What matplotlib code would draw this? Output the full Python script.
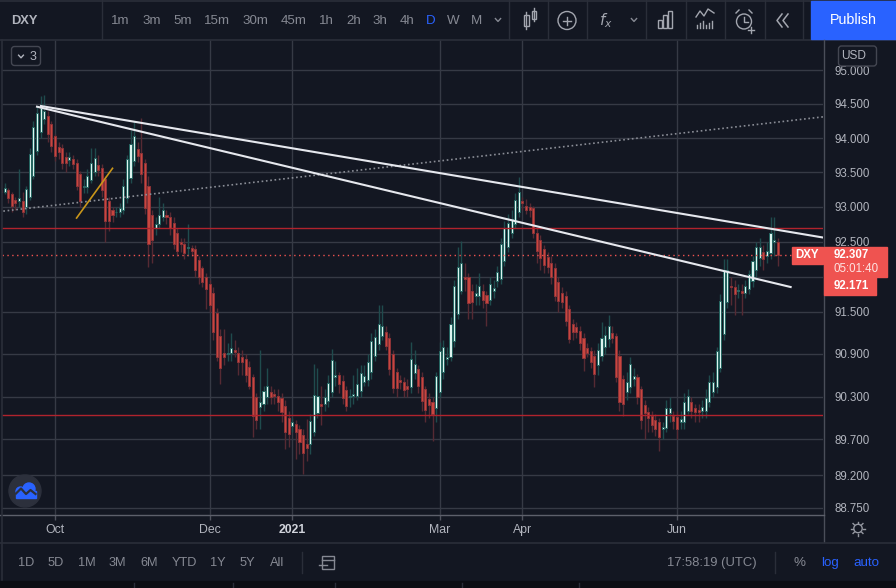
import numpy as np
import pandas as pd
import matplotlib
matplotlib.use('Agg')
from matplotlib import pyplot as plt
from matplotlib.patches import Rectangle, FancyBboxPatch, Circle, Polygon
from matplotlib.ticker import NullLocator, NullFormatter

plt.rcParams['font.family'] = ['Liberation Sans', 'DejaVu Sans']

# DXY daily candles (weekdays), 10 Sep 2020 -> 9 Jul 2021
dates = pd.bdate_range('2020-09-10', '2021-07-09')

opens = [93.25, 93.22, 93.25, 93.19, 93.10, 93.09, 93.09, 93.00, 93.14, 93.45,
         93.81, 94.09, 94.28, 94.32, 94.21, 94.03, 93.87, 93.86, 93.73, 93.68,
         93.70, 93.64, 93.48, 93.29, 93.29, 93.39, 93.51, 93.61, 93.57, 93.41,
         93.09, 92.95, 92.92, 92.92, 92.95, 93.13, 93.42, 93.67, 93.84, 93.78,
         93.63, 93.30, 92.88, 92.70, 92.75, 92.85, 92.88, 92.86, 92.77, 92.62,
         92.49, 92.47, 92.415, 92.41, 92.40, 92.23, 92.12, 92.00, 91.89, 91.76,
         91.48, 91.15, 90.92, 90.90, 90.91, 90.95, 90.92, 90.85, 90.83, 90.71,
         90.57, 90.29, 90.15, 90.19, 90.29, 90.36, 90.33, 90.31, 90.28, 90.17,
         90.00, 89.89, 89.91, 89.85, 89.76, 89.63, 89.64, 89.80, 90.07, 90.20,
         90.20, 90.24, 90.36, 90.58, 90.60, 90.52, 90.39, 90.30, 90.31, 90.31,
         90.38, 90.50, 90.53, 90.64, 90.87, 91.04, 91.15, 91.21, 91.12, 90.90,
         90.64, 90.53, 90.50, 90.45, 90.43, 90.63, 90.69, 90.57, 90.40, 90.26,
         90.22, 90.14, 90.36, 90.64, 90.83, 90.86, 91.08, 91.47, 91.80, 92.00,
         91.99, 91.79, 91.72, 91.72, 91.79, 91.73, 91.67, 91.79, 91.93, 91.96,
         92.22, 92.43, 92.62, 92.75, 92.92, 93.08, 93.02, 93.00, 92.98, 92.62,
         92.53, 92.40, 92.28, 92.20, 92.12, 91.92, 91.77, 91.72, 91.53, 91.32,
         91.28, 91.22, 91.13, 90.99, 90.94, 90.87, 90.74, 90.87, 91.00, 91.11,
         91.19, 91.15, 90.87, 90.54, 90.36, 90.43, 90.55, 90.57, 90.40, 90.18,
         90.08, 90.03, 89.97, 89.94, 89.85, 89.86, 90.07, 90.03, 90.01, 89.94,
         89.94, 90.10, 90.22, 90.14, 90.11, 90.10, 90.10, 90.22, 90.36, 90.43,
         90.70, 91.18, 91.63, 91.86, 91.85, 91.80, 91.80, 91.77, 91.82, 91.93,
         92.10, 92.26, 92.35, 92.30, 92.33, 92.49, 92.50]

highs = [93.30, 93.35, 93.28, 93.22, 93.15, 93.55, 93.22, 93.30, 93.85, 94.25,
         94.46, 94.62, 94.63, 94.40, 94.25, 94.06, 93.95, 93.92, 93.80, 93.80,
         93.75, 93.70, 93.52, 93.40, 93.55, 93.85, 93.85, 93.75, 93.62, 93.45,
         93.15, 93.00, 93.00, 93.05, 93.40, 93.75, 94.12, 94.25, 93.95, 94.30,
         93.70, 93.45, 92.95, 92.85, 93.15, 93.05, 92.95, 92.92, 92.85, 92.70,
         92.55, 92.55, 92.75, 92.45, 92.45, 92.30, 92.15, 92.05, 91.95, 91.85,
         91.55, 91.25, 91.25, 91.05, 91.20, 91.10, 91.00, 90.95, 90.90, 90.80,
         90.62, 90.35, 90.95, 90.45, 90.70, 90.45, 90.40, 90.40, 90.35, 90.25,
         90.10, 90.00, 89.97, 89.90, 89.85, 89.98, 90.05, 90.76, 90.70, 90.45,
         90.40, 90.60, 90.97, 90.80, 90.65, 90.60, 90.45, 90.40, 90.60, 90.70,
         90.75, 90.75, 90.90, 91.20, 91.25, 91.60, 91.60, 91.30, 91.20, 90.95,
         90.70, 90.60, 90.58, 90.55, 91.07, 90.95, 90.75, 90.65, 90.45, 90.35,
         90.30, 90.65, 91.07, 91.10, 91.00, 91.43, 91.95, 92.43, 92.51, 92.20,
         92.05, 91.90, 91.90, 92.05, 91.90, 91.80, 92.00, 91.95, 92.15, 92.55,
         92.80, 92.90, 92.95, 93.20, 93.44, 93.15, 93.12, 93.05, 93.02, 92.70,
         92.60, 92.45, 92.35, 92.30, 92.20, 92.00, 91.85, 91.80, 91.60, 91.40,
         91.35, 91.30, 91.20, 91.05, 91.00, 90.95, 91.05, 91.35, 91.30, 91.45,
         91.30, 91.20, 90.95, 90.60, 90.65, 90.85, 90.70, 90.62, 90.45, 90.25,
         90.15, 90.10, 90.05, 90.00, 89.95, 90.25, 90.30, 90.10, 90.10, 90.10,
         90.35, 90.40, 90.30, 90.20, 90.20, 90.25, 90.40, 90.60, 90.65, 91.00,
         91.75, 92.25, 92.25, 92.00, 91.95, 91.90, 91.90, 91.95, 92.10, 92.30,
         92.50, 92.55, 92.45, 92.50, 92.85, 92.85, 92.55]

lows = [93.15, 93.18, 93.05, 92.92, 92.95, 93.00, 92.85, 92.90, 93.10, 93.40,
        93.75, 94.00, 94.20, 93.95, 93.80, 93.66, 93.70, 93.55, 93.50, 93.60,
        93.55, 93.25, 93.00, 93.20, 93.20, 93.35, 93.45, 93.45, 93.15, 92.49,
        92.65, 92.78, 92.85, 92.85, 92.90, 93.05, 93.35, 93.60, 93.65, 93.35,
        92.90, 92.14, 92.20, 92.60, 92.70, 92.80, 92.75, 92.60, 92.40, 92.30,
        92.35, 92.25, 92.30, 92.30, 92.00, 91.90, 91.85, 91.53, 91.50, 91.10,
        90.80, 90.47, 90.75, 90.80, 90.80, 90.85, 90.60, 90.60, 90.50, 90.40,
        89.73, 89.85, 89.85, 90.10, 90.20, 90.20, 90.20, 90.10, 89.95, 89.57,
        89.60, 89.80, 89.43, 89.50, 89.22, 89.40, 89.50, 89.75, 90.00, 89.90,
        90.10, 90.15, 90.30, 90.45, 90.35, 90.20, 90.10, 90.15, 90.20, 90.25,
        90.30, 90.45, 90.45, 90.55, 90.80, 90.95, 91.10, 90.95, 90.60, 90.35,
        90.30, 90.40, 90.30, 90.30, 90.35, 90.55, 90.35, 90.10, 89.95, 90.00,
        89.68, 89.95, 90.30, 90.55, 90.75, 90.80, 91.00, 91.40, 91.75, 91.80,
        91.39, 91.40, 91.60, 91.60, 91.55, 91.29, 91.60, 91.70, 91.85, 91.90,
        92.15, 92.35, 92.55, 92.70, 92.85, 92.95, 92.90, 92.85, 92.55, 92.20,
        92.10, 92.05, 92.05, 91.90, 91.65, 91.50, 91.55, 91.30, 91.05, 91.10,
        91.12, 90.95, 90.66, 90.85, 90.70, 90.43, 90.60, 90.80, 90.90, 91.00,
        91.05, 90.50, 90.10, 90.03, 90.25, 90.35, 90.45, 90.20, 89.85, 89.71,
        89.80, 89.80, 89.75, 89.54, 89.70, 89.80, 89.95, 89.85, 89.71, 89.85,
        89.85, 90.05, 90.00, 89.95, 89.95, 90.00, 90.00, 90.15, 90.30, 90.35,
        90.65, 91.10, 91.55, 91.60, 91.45, 91.70, 91.45, 91.70, 91.75, 91.85,
        92.00, 92.15, 92.10, 92.20, 92.25, 92.30, 92.15]

closes = [93.21, 93.27, 93.13, 93.02, 93.06, 93.13, 92.92, 93.26, 93.77, 94.16,
          94.37, 94.44, 94.40, 94.06, 93.89, 93.74, 93.80, 93.63, 93.63, 93.73,
          93.62, 93.31, 93.09, 93.30, 93.45, 93.63, 93.71, 93.53, 93.25, 92.80,
          92.80, 92.88, 92.925, 92.98, 93.31, 93.70, 93.92, 94.03, 93.74, 93.48,
          92.98, 92.46, 92.52, 92.76, 92.88, 92.96, 92.85, 92.69, 92.46, 92.37,
          92.46, 92.34, 92.42, 92.36, 92.09, 92.00, 91.92, 91.82, 91.59, 91.21,
          90.85, 90.70, 90.85, 90.91, 90.98, 90.93, 90.78, 90.78, 90.60, 90.45,
          90.03, 89.97, 90.22, 90.38, 90.45, 90.29, 90.31, 90.22, 90.08, 89.80,
          89.78, 89.94, 89.80, 89.66, 89.51, 89.58, 89.96, 90.32, 90.31, 90.17,
          90.29, 90.49, 90.81, 90.60, 90.47, 90.28, 90.17, 90.31, 90.33, 90.47,
          90.63, 90.59, 90.78, 91.08, 91.14, 91.33, 91.29, 91.01, 90.69, 90.42,
          90.42, 90.50, 90.39, 90.40, 90.83, 90.76, 90.45, 90.24, 90.11, 90.18,
          90.05, 90.59, 90.94, 91.00, 90.86, 91.33, 91.87, 92.14, 92.20, 91.97,
          91.62, 91.63, 91.76, 91.86, 91.66, 91.62, 91.89, 91.83, 92.06, 92.46,
          92.70, 92.77, 92.83, 93.10, 93.22, 93.06, 92.96, 92.96, 92.62, 92.36,
          92.26, 92.17, 92.14, 92.00, 91.72, 91.65, 91.63, 91.36, 91.11, 91.21,
          91.21, 91.06, 90.84, 90.92, 90.78, 90.61, 90.95, 91.12, 91.17, 91.29,
          91.12, 90.57, 90.22, 90.19, 90.50, 90.76, 90.59, 90.29, 89.97, 90.07,
          90.00, 89.90, 89.85, 89.73, 89.88, 90.14, 90.14, 89.96, 89.85, 89.98,
          90.22, 90.31, 90.10, 90.08, 90.08, 90.15, 90.28, 90.50, 90.50, 90.94,
          91.65, 92.09, 92.10, 91.85, 91.75, 91.805, 91.77, 91.86, 92.03, 92.22,
          92.43, 92.43, 92.25, 92.36, 92.63, 92.52, 92.307]

# axes
month_ticks = ['2020-10', '2020-12', '2021-01', '2021-03', '2021-04', '2021-06']
month_labels = ['Oct', 'Dec', '2021', 'Mar', 'Apr', 'Jun']
price_ticks = [95.0, 94.5, 94.0, 93.5, 93.0, 92.5, 92.0, 91.5, 90.9, 90.3, 89.7, 89.2, 88.75]
hidden_tick = 92.0
xlim = (0.26, 228.6)
ylim = (88.667, 95.444)

# drawings (bar index, price)
trend_upper = [(11.1, 94.47), (240.0, 92.46)]
trend_lower = [(10.0, 94.46), (219.6, 91.85)]
trend_dotted = [(-1.0, 92.93), (240.0, 94.38)]
trend_orange = [(21.0, 92.84), (31.0, 93.56)]
red_levels = [92.70, 90.04]
last_price = 92.307
second_label = 92.171
countdown = '05:01:40'

bg = '#131722'
grid_c = '#363a45'
sep_c = '#2a2e39'
txt = '#b2b5be'
dim = '#868993'
blue = '#2962ff'
lab_red = '#ef5350'

fig = plt.figure(figsize=(8.96, 5.88), dpi=100, facecolor=bg)
ax = fig.add_axes([2/896, 74/588, 821/896, 474/588])
ax.set_facecolor(bg)

x = np.arange(len(dates))
o = np.array(opens); h = np.array(highs); l = np.array(lows); c = np.array(closes)
up = c >= o
bottom = np.minimum(o, c)
height = np.maximum(np.abs(c - o), 0.012)

ax.vlines(x[up], l[up], h[up], color='#1f4b4d', lw=1, zorder=2)
ax.vlines(x[~up], l[~up], h[~up], color='#562a33', lw=1, zorder=2)
ax.bar(x[up], height[up], bottom=bottom[up], width=0.58, color='#dcf3ef',
       edgecolor='#246460', lw=0.7, zorder=3)
ax.bar(x[~up], height[~up], bottom=bottom[~up], width=0.58, color='#c8463f',
       edgecolor='#8e3438', lw=0.7, zorder=3)

for lv in red_levels:
    ax.axhline(lv, color='#b0232d', lw=1.0, zorder=4)
ax.axhline(last_price, color=lab_red, lw=1, ls=(0, (1, 2.5)), zorder=4)

def seg(pts, **kw):
    xs, ys = zip(*pts)
    ax.plot(xs, ys, **kw)

seg(trend_dotted, color='#8a8d96', lw=1.2, ls=(0, (1, 1.6)), zorder=5)
seg(trend_upper, color='#e6e8ee', lw=1.5, zorder=6)
seg(trend_lower, color='#e6e8ee', lw=1.5, zorder=6)
seg(trend_orange, color='#c9961a', lw=1.2, zorder=6)

ax.set_yscale('log')
ax.set_xlim(*xlim)
ax.set_ylim(*ylim)
ax.yaxis.set_minor_locator(NullLocator())
ax.yaxis.set_minor_formatter(NullFormatter())
ax.set_yticks(price_ticks)
ax.set_yticklabels(['' if t == hidden_tick else '%.3f' % t for t in price_ticks])
ax.yaxis.tick_right()
ax.tick_params(axis='y', length=0, pad=8, labelsize=8.3, labelcolor=txt)

ym = dates.strftime('%Y-%m')
xt = [int(np.argmax(ym == m)) for m in month_ticks]
ax.set_xticks(xt)
ax.set_xticklabels(month_labels)
ax.tick_params(axis='x', length=4, width=1, color='#50535e', pad=3, labelsize=8.8, labelcolor=txt)
lbl = ax.get_xticklabels()[month_labels.index('2021')]
lbl.set_fontweight('bold')
lbl.set_color('#d1d4dc')
ax.grid(True, color=grid_c, lw=1, zorder=0)
for s in ax.spines.values():
    s.set_visible(False)

def py(p):
    return 588 - ax.transData.transform((0, p))[1]

# chrome overlay in pixel units
ov = fig.add_axes([0, 0, 1, 1], zorder=5)
ov.set_xlim(0, 896)
ov.set_ylim(588, 0)
ov.axis('off')

def chev(xc, yc, s=2.6, col=dim, lw=1):
    ov.plot([xc - s, xc, xc + s], [yc - s * 0.55, yc + s * 0.55, yc - s * 0.55], color=col, lw=lw)

# top toolbar
ov.add_patch(Rectangle((0, 0), 896, 39, color=bg, zorder=1))
ov.plot([0, 896], [39.5, 39.5], color=sep_c, lw=1.2)
ov.plot([0, 896], [0.8, 0.8], color=sep_c, lw=1.2)
for sx in [102, 509, 548, 587, 646, 686, 725, 765, 803]:
    ov.plot([sx, sx], [0, 39], color=sep_c, lw=1)
ov.text(24, 20.5, 'DXY', color=txt, fontsize=9.3, fontweight='bold', ha='center', va='center')
intervals = ['1m', '3m', '5m', '15m', '30m', '45m', '1h', '2h', '3h', '4h', 'D', 'W', 'M']
ix = [120.5, 151.5, 182.5, 217, 255, 293.5, 326.5, 353.5, 380, 407, 431, 453, 476]
for t, xx in zip(intervals, ix):
    ov.text(xx, 20.5, t, color=blue if t == 'D' else dim, fontsize=9.6, ha='center', va='center')
chev(498, 20)
icol = '#a3a6af'
# candles icon
ov.add_patch(Rectangle((524, 15), 4.5, 11, fill=False, ec=icol, lw=1))
ov.plot([526.2, 526.2], [12, 29], color=icol, lw=1)
ov.add_patch(Rectangle((531.5, 10.5), 4.5, 8, fill=False, ec=icol, lw=1))
ov.plot([533.7, 533.7], [8, 21], color=icol, lw=1)
# compare (+)
ov.add_patch(Circle((567, 20.5), 9, fill=False, ec=icol, lw=1))
ov.plot([563, 571], [20.5, 20.5], color=icol, lw=1)
ov.plot([567, 567], [16.5, 24.5], color=icol, lw=1)
# indicators
ov.text(606, 21, r'$f_x$', color=icol, fontsize=11, ha='center', va='center')
chev(634, 20)
# bars icon
for bx, top in [(657.5, 20), (662.5, 15), (667.5, 11)]:
    ov.add_patch(Rectangle((bx, top), 4, 28 - top, fill=False, ec=icol, lw=1))
# indicator/line icon
ov.plot([696, 700, 704, 708, 714], [17, 11, 16, 9, 13], color=icol, lw=1)
for k, vx in enumerate([697, 700, 703, 706, 709, 712]):
    ov.plot([vx, vx], [28 - (k % 3) * 2 - 3, 28], color=icol, lw=1)
# alarm icon
ov.add_patch(Circle((744, 21.5), 7.5, fill=False, ec=icol, lw=1))
ov.plot([744, 744, 748], [17, 22, 22], color=icol, lw=1)
ov.plot([736, 739], [13, 10], color=icol, lw=1)
ov.plot([749, 752], [10, 13], color=icol, lw=1)
ov.plot([748, 754], [30, 30], color=icol, lw=1)
ov.plot([751, 751], [27, 33], color=icol, lw=1)
# replay icon
for dx in [0, 6]:
    ov.plot([782 + dx, 777 + dx, 782 + dx], [14, 20.5, 27], color=icol, lw=1.1)
# publish
ov.add_patch(Rectangle((811, 1), 85, 38, color=blue, zorder=2))
ov.text(853, 20.5, 'Publish', color='white', fontsize=10.3, ha='center', va='center', zorder=3)

# left "3" box and USD box
ov.add_patch(FancyBboxPatch((11.5, 46.5), 29, 19, boxstyle='round,pad=0,rounding_size=3',
                            fc=bg, ec='#434651', lw=1))
chev(21, 56.5, s=2.4, col=txt)
ov.text(33, 56.5, '3', color=txt, fontsize=9, ha='center', va='center')
ov.add_patch(FancyBboxPatch((838.5, 46), 38, 20, boxstyle='round,pad=0,rounding_size=3',
                            fc=bg, ec='#434651', lw=1, zorder=3))
ov.text(853.5, 56, 'USD', color=txt, fontsize=8.6, ha='center', va='center', zorder=4)
chev(870.5, 56, s=2, col=txt)

# pane borders
ov.plot([823.5, 823.5], [40, 542], color='#4a4e59', lw=1)
ov.plot([0, 823.5], [514.5, 514.5], color='#5d606b', lw=1)
ov.plot([1.5, 1.5], [40, 581], color=sep_c, lw=1.2)

# price labels on the axis
yp = py(last_price)
ov.add_patch(Rectangle((791.5, yp - 8.5), 31.5, 17, color=lab_red, zorder=3))
ov.text(807, yp, 'DXY', color='white', fontsize=8.3, fontweight='bold', ha='center', va='center', zorder=4)
ov.add_patch(Rectangle((824, yp - 8.5), 63, 30.5, color=lab_red, zorder=3))
ov.text(834, yp, '%.3f' % last_price, color='white', fontsize=8.3, fontweight='bold', va='center', zorder=4)
ov.text(834, yp + 14, countdown, color='#fde3e2', fontsize=8.3, va='center', zorder=4)
ov.add_patch(Rectangle((824, yp + 22), 52, 17.5, color=lab_red, zorder=3))
ov.text(834, yp + 31, '%.3f' % second_label, color='white', fontsize=8.3, fontweight='bold', va='center', zorder=4)

# logo (cloud badge)
ov.add_patch(Circle((25, 491), 16, color='#2c303c', zorder=3))
ov.add_patch(Circle((20.5, 491.5), 4.5, color=blue, zorder=4))
ov.add_patch(Circle((29, 489), 6, color=blue, zorder=4))
ov.add_patch(Rectangle((15.5, 491), 20.5, 6.5, color=blue, zorder=4))
ov.plot([16, 21, 26, 30.5, 35.5], [493.5, 488.5, 494, 490, 494], color='#2c303c', lw=1.6, zorder=5)

# settings icon in the time axis row
ov.add_patch(Circle((858, 528.5), 4.2, fill=False, ec='#9598a1', lw=1))
for ang in np.linspace(0, 2 * np.pi, 8, endpoint=False):
    ov.plot([858 + 5.2 * np.cos(ang), 858 + 7 * np.cos(ang)],
            [528.5 + 5.2 * np.sin(ang), 528.5 + 7 * np.sin(ang)], color='#9598a1', lw=1)

# bottom bar
ov.plot([0, 896], [542.5, 542.5], color=sep_c, lw=1.2)
ranges = ['1D', '5D', '1M', '3M', '6M', 'YTD', '1Y', '5Y', 'All']
rx = [26, 56, 87, 117, 149, 184, 218, 247.5, 277]
for t, xx in zip(ranges, rx):
    ov.text(xx, 563, t, color=dim, fontsize=9.2, ha='center', va='center')
ov.plot([302, 302], [552, 573], color=sep_c, lw=1)
ov.add_patch(Rectangle((321.5, 556), 12, 13, fill=False, ec=dim, lw=1))
ov.plot([321.5, 333.5], [559.5, 559.5], color=dim, lw=1)
ov.plot([319, 327], [565, 565], color=dim, lw=1)
ov.text(712, 563, '17:58:19 (UTC)', color=dim, fontsize=9.4, ha='center', va='center')
ov.plot([775, 775], [552, 573], color=sep_c, lw=1)
ov.text(799, 563, '%', color=dim, fontsize=9.6, ha='center', va='center')
ov.text(830, 563, 'log', color=blue, fontsize=9.6, ha='center', va='center')
ov.text(866, 563, 'auto', color=blue, fontsize=9.6, ha='center', va='center')
ov.add_patch(Rectangle((0, 581), 896, 7, color='#0b0d13', zorder=2))
for sx in [134, 233, 335, 462, 579]:
    ov.plot([sx, sx], [583, 588], color=sep_c, lw=1, zorder=3)

fig.savefig('out.png', dpi=100, facecolor=bg)
